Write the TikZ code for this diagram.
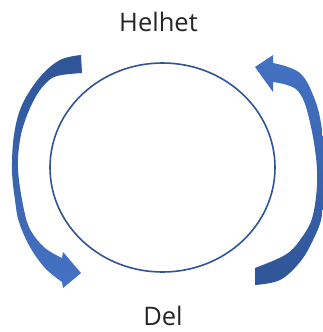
\documentclass[tikz,border=0pt]{standalone}
\usepackage{fontspec}
\setmainfont{Open Sans}
\usetikzlibrary{shapes.geometric}
\definecolor{ringblue}{HTML}{2F5597}
\definecolor{darkblue}{HTML}{2F5597}
\definecolor{lightblue}{HTML}{4472C4}
\definecolor{txt}{HTML}{262626}
\tikzset{
  label text/.style={font=\fontsize{25.5}{30}\selectfont, text=txt, inner sep=0pt, anchor=base},
  ring/.style={draw=ringblue, line width=1.6pt, ellipse, inner sep=0pt},
  blockarrow/.style={draw=none}
}
\begin{document}
\begin{tikzpicture}[x=1pt,y=-1pt]
\useasboundingbox (0,0) rectangle (323,332);
\clip (0,0) rectangle (323,332);
\fill[white] (0,0) rectangle (323,332);
% circle
\node[ring, minimum width=225pt, minimum height=209pt] (circ) at (162.5,167.5) {};
% texts
\node[label text] (helhet) at (158.5,31) {Helhet};
\node[label text] (del) at (163,325) {Del};
% left curved arrow (tail at top, head at bottom)
\shade[blockarrow, top color=darkblue, bottom color=lightblue]
  plot[smooth, tension=0.6] coordinates {(81,55) (60,60) (40,77) (22,105) (14,135) (12,170) (15,200) (19,222) (30,247) (45,268) (62,282)}
  -- (63,288) -- (81,273) -- (63,252) --
  plot[smooth, tension=0.6] coordinates {(62,258) (45,248) (31,231) (24,210) (18,170) (20,140) (26,118) (35,98) (45,84) (57,76) (82,73)}
  -- cycle;
% right curved arrow (tail at bottom, head at top)
\shade[blockarrow, top color=lightblue, bottom color=darkblue]
  plot[smooth, tension=0.6] coordinates {(255,285) (280,280) (300,262) (313,240) (322,215) (325,170) (322,130) (315,100) (300,73) (273,63)}
  -- (273,55) -- (255,67) -- (273,92) --
  plot[smooth, tension=0.6] coordinates {(273,82) (297,90) (309,118) (317,170) (313,215) (300,240) (285,255) (255,268)}
  -- cycle;
\end{tikzpicture}
\end{document}
